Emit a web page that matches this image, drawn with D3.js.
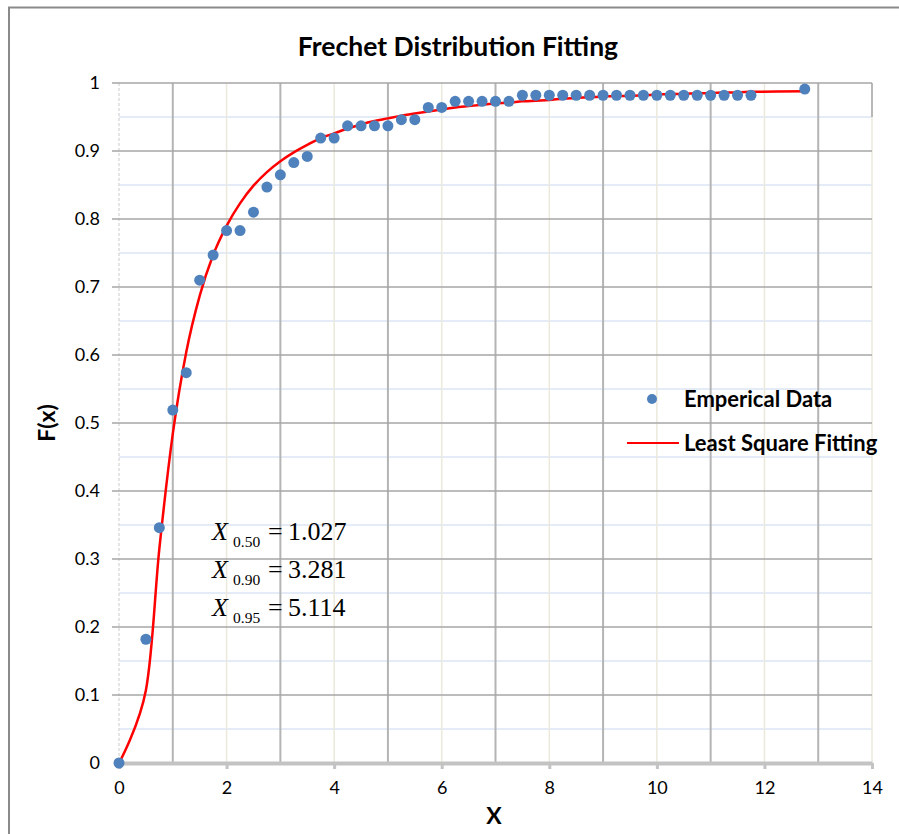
<!DOCTYPE html>
<html>
<head>
<meta charset="utf-8">
<script src="https://cdn.jsdelivr.net/npm/d3@7"></script>
<style>
  html, body { margin: 0; padding: 0; background: #fff; }
  svg { display: block; }
</style>
</head>
<body>
<svg id="chart" width="899" height="834"></svg>
<script>
// ---- Data ----
const xValues = [0, 0.5, 0.75, 1, 1.25, 1.5, 1.75, 2, 2.25, 2.5, 2.75, 3, 3.25, 3.5, 3.75, 4,
  4.25, 4.5, 4.75, 5, 5.25, 5.5, 5.75, 6, 6.25, 6.5, 6.75, 7, 7.25, 7.5, 7.75, 8, 8.25, 8.5,
  8.75, 9, 9.25, 9.5, 9.75, 10, 10.25, 10.5, 10.75, 11, 11.25, 11.5, 11.75, 12.75];
const empiricalF = [0, 0.182, 0.346, 0.519, 0.574, 0.710, 0.747, 0.783, 0.783, 0.810, 0.847,
  0.865, 0.883, 0.892, 0.919, 0.919, 0.937, 0.937, 0.937, 0.937, 0.946, 0.946, 0.964, 0.964,
  0.973, 0.973, 0.973, 0.973, 0.973, 0.982, 0.982, 0.982, 0.982, 0.982, 0.982, 0.982, 0.982,
  0.982, 0.982, 0.982, 0.982, 0.982, 0.982, 0.982, 0.982, 0.982, 0.982, 0.991];
const fittedF = [0, 0.107, 0.315, 0.484, 0.604, 0.687, 0.747, 0.790, 0.823, 0.849, 0.869,
  0.885, 0.898, 0.909, 0.919, 0.926, 0.933, 0.939, 0.944, 0.948, 0.952, 0.955, 0.958, 0.961,
  0.964, 0.966, 0.968, 0.970, 0.971, 0.973, 0.974, 0.975, 0.977, 0.978, 0.979, 0.980, 0.981,
  0.981, 0.982, 0.983, 0.984, 0.984, 0.985, 0.985, 0.986, 0.986, 0.987, 0.988];
const xTicks = [0, 2, 4, 6, 8, 10, 12, 14];
const yTicks = [0, 0.1, 0.2, 0.3, 0.4, 0.5, 0.6, 0.7, 0.8, 0.9, 1];
const quantileLabels = ["0.50", "0.90", "0.95"];
const quantileValues = ["1.027", "3.281", "5.114"];
const seriesNames = ["Emperical Data", "Least Square Fitting"];
const titleText = "Frechet Distribution Fitting";

// ---- Layout ----
const svg = d3.select("#chart");
const plot = { left: 119, right: 872, top: 83, bottom: 763 };
const x = d3.scaleLinear().domain([0, 14]).range([plot.left, plot.right]);
const y = d3.scaleLinear().domain([0, 1]).range([plot.bottom, plot.top]);
const sans = "Lato, 'Open Sans', sans-serif";

// outer frame
svg.append("path")
  .attr("d", `M9,${834 + 5} L9,7.5 L${899 + 5},7.5`)
  .attr("fill", "none").attr("stroke", "#8a8a8a").attr("stroke-width", 2);

const grid = svg.append("g");
// minor horizontal (0.05)
d3.range(0.05, 1, 0.1).forEach(v => {
  grid.append("line").attr("x1", plot.left).attr("x2", plot.right)
    .attr("y1", y(v)).attr("y2", y(v))
    .attr("stroke", "#c9d8f0").attr("stroke-width", 1);
});
// vertical minor (even) lines
[2, 4, 6, 8, 10, 12, 14].forEach(v => {
  grid.append("line").attr("x1", x(v)).attr("x2", x(v))
    .attr("y1", plot.top).attr("y2", plot.bottom)
    .attr("stroke", "#ebe9dc").attr("stroke-width", 1.5);
});
// left dashed edge
grid.append("line").attr("x1", plot.left).attr("x2", plot.left)
  .attr("y1", plot.top).attr("y2", plot.bottom)
  .attr("stroke", "#dcdcdc").attr("stroke-width", 1.5).attr("stroke-dasharray", "3,2");
// vertical major (odd) lines
[1, 3, 5, 7, 9, 11, 13].forEach(v => {
  grid.append("line").attr("x1", x(v)).attr("x2", x(v))
    .attr("y1", plot.top).attr("y2", plot.bottom)
    .attr("stroke", "#b4b4b4").attr("stroke-width", 2);
});
// horizontal major
yTicks.filter(v => v > 0).forEach(v => {
  grid.append("line").attr("x1", plot.left - 7).attr("x2", plot.right)
    .attr("y1", y(v)).attr("y2", y(v))
    .attr("stroke", "#a6a6a6").attr("stroke-width", 1.5);
});
// right edge line top part
grid.append("line").attr("x1", plot.right).attr("x2", plot.right)
  .attr("y1", plot.top).attr("y2", y(0.95))
  .attr("stroke", "#a6a6a6").attr("stroke-width", 1.5);

// x axis
const xAxisG = svg.append("g").attr("transform", `translate(0,${plot.bottom})`)
  .call(d3.axisBottom(x).tickValues(xTicks).tickSize(6).tickSizeOuter(0).tickPadding(12));
xAxisG.select(".domain").attr("stroke", "#c3c3c3").attr("stroke-width", 4);
xAxisG.selectAll(".tick line").attr("stroke", "#c3c3c3").attr("stroke-width", 3);
xAxisG.selectAll(".tick text").attr("font-family", sans).attr("font-size", 18).attr("fill", "#000");

// y axis labels
const yAxisG = svg.append("g").attr("transform", `translate(${plot.left},0)`)
  .call(d3.axisLeft(y).tickValues(yTicks).tickFormat(d => d3.format("")(+d.toFixed(1)))
    .tickSize(0).tickPadding(19));
yAxisG.select(".domain").remove();
yAxisG.selectAll(".tick text").attr("font-family", sans).attr("font-size", 18).attr("fill", "#000");

// fitted curve
const line = d3.line().x((d, i) => x(xValues[i])).y(d => y(d)).curve(d3.curveCatmullRom.alpha(0));
svg.append("path").datum(fittedF).attr("d", line)
  .attr("fill", "none").attr("stroke", "#ff0000").attr("stroke-width", 2.5);

// empirical points
svg.append("g").selectAll("circle").data(empiricalF).join("circle")
  .attr("cx", (d, i) => x(xValues[i])).attr("cy", d => y(d)).attr("r", 5.5)
  .attr("fill", "#4f81bd");

// title
svg.append("text").attr("x", 458).attr("y", 56).attr("text-anchor", "middle")
  .attr("font-family", sans).attr("font-weight", "bold").attr("font-size", 26.5)
  .text(titleText);

// axis titles
svg.append("text").attr("x", 494).attr("y", 824).attr("text-anchor", "middle")
  .attr("font-family", sans).attr("font-weight", "bold").attr("font-size", 23).text("X");
svg.append("text").attr("transform", "translate(55,423) rotate(-90)").attr("text-anchor", "middle")
  .attr("font-family", sans).attr("font-weight", "bold").attr("font-size", 23).text("F(x)");

// annotation
const serif = "'Liberation Serif', 'DejaVu Serif', serif";
quantileLabels.forEach((q, i) => {
  const by = 540 + i * 38;
  const row = svg.append("g");
  row.append("text").attr("x", 212).attr("y", by)
    .attr("font-family", serif).attr("font-size", 26).attr("font-style", "italic").text("X");
  row.append("text").attr("x", 233).attr("y", by + 7)
    .attr("font-family", serif).attr("font-size", 15.5).text(q);
  row.append("text").attr("x", 268).attr("y", by)
    .attr("font-family", serif).attr("font-size", 26).text("=");
  row.append("text").attr("x", 288).attr("y", by)
    .attr("font-family", serif).attr("font-size", 26).text(quantileValues[i]);
});

// legend
const lg = svg.append("g");
lg.append("circle").attr("cx", 652).attr("cy", 399).attr("r", 5).attr("fill", "#4f81bd");
lg.append("text").attr("x", 684).attr("y", 407).attr("font-family", sans)
  .attr("font-weight", "bold").attr("font-size", 22).text(seriesNames[0]);
lg.append("line").attr("x1", 627).attr("x2", 679).attr("y1", 443).attr("y2", 443)
  .attr("stroke", "#ff0000").attr("stroke-width", 2);
lg.append("text").attr("x", 684).attr("y", 451).attr("font-family", sans)
  .attr("font-weight", "bold").attr("font-size", 22).text(seriesNames[1]);
</script>
</body>
</html>
